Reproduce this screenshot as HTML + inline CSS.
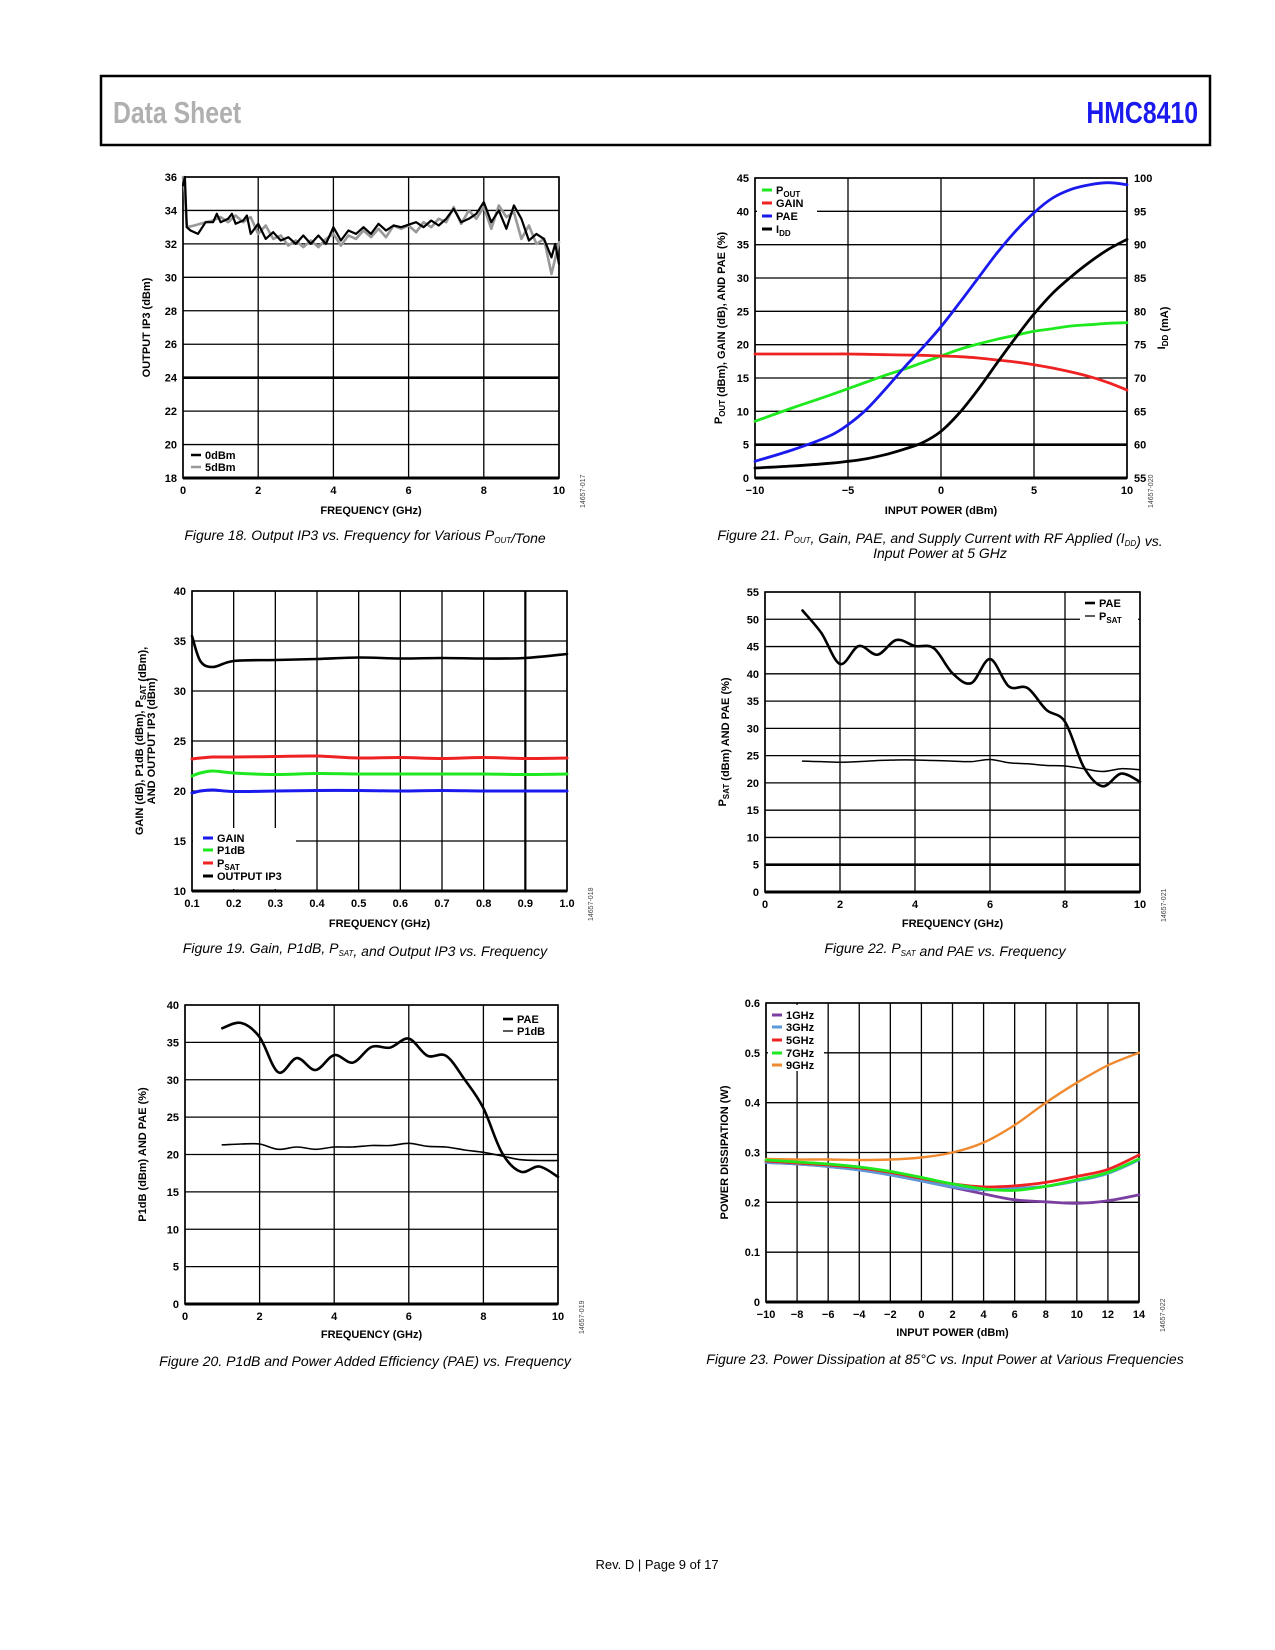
<!DOCTYPE html>
<html><head><meta charset="utf-8">
<style>
body{margin:0;background:#fff;}
svg{display:block;font-family:"Liberation Sans",sans-serif;}
.tk{font-size:11px;font-weight:bold;}
.ti{font-size:11px;font-weight:bold;}
.cap{font-size:14px;font-style:italic;}
.lg{font-size:11px;font-weight:bold;}
</style></head>
<body>
<svg id="page" width="1275" height="1650" viewBox="0 0 1275 1650">
<rect x="101" y="76" width="1109" height="69" fill="none" stroke="#000" stroke-width="2.5"/>
<text x="113" y="123" font-size="31" font-weight="bold" fill="#b0b0b0" transform="translate(113 0) scale(0.8 1) translate(-113 0)">Data Sheet</text>
<text x="1198" y="123" font-size="31" font-weight="bold" fill="#1a1aee" text-anchor="end" transform="translate(1198 0) scale(0.8 1) translate(-1198 0)">HMC8410</text>
<text x="657" y="1569" font-size="13" text-anchor="middle">Rev. D | Page 9 of 17</text>
</svg>
<script>
// ---- Figure 18 data ----
const f18x0=[0,0.05,0.1,0.2,0.4,0.6,0.8,0.9,1.0,1.2,1.3,1.4,1.6,1.7,1.8,2.0,2.2,2.4,2.6,2.8,3.0,3.2,3.4,3.6,3.8,4.0,4.2,4.4,4.6,4.8,5.0,5.2,5.4,5.6,5.8,6.2,6.4,6.6,6.8,7.0,7.2,7.4,7.6,7.8,8.0,8.2,8.4,8.6,8.8,9.0,9.2,9.4,9.6,9.8,9.9,10];
const f18y0=[35.5,36,33,32.8,32.6,33.3,33.3,33.8,33.3,33.5,33.8,33.2,33.4,33.7,32.6,33.2,32.3,32.7,32.2,32.4,32.0,32.5,32.0,32.5,32.0,33.0,32.2,32.8,32.6,33.0,32.6,33.2,32.8,33.1,33.0,33.3,33.0,33.4,33.1,33.5,34.1,33.3,33.5,33.8,34.5,33.3,34.0,32.9,34.3,33.5,32.2,32.6,32.3,31.2,32.0,30.8];
const f18x5=[0,0.05,0.1,0.3,0.6,0.8,1.0,1.2,1.4,1.6,1.8,2.0,2.2,2.4,2.6,2.8,3.0,3.2,3.4,3.6,3.8,4.0,4.2,4.4,4.6,4.8,5.0,5.2,5.4,5.6,5.8,6.0,6.2,6.4,6.6,6.8,7.0,7.2,7.4,7.6,7.8,8.0,8.2,8.4,8.6,8.8,9.0,9.2,9.4,9.6,9.8,10];
const f18y5=[36,35,33,33.1,33.3,33.4,33.6,33.3,33.7,33.3,33.6,32.6,33.1,32.3,32.5,31.9,32.2,31.8,32.2,31.8,32.3,32.6,31.9,32.5,32.3,32.8,32.4,32.9,32.4,33.1,32.9,33.1,32.7,33.3,33.0,33.5,33.3,34.2,33.2,34.0,33.5,34.2,32.9,34.3,33.6,33.9,32.3,33.1,32.0,32.3,30.2,32.1];
const f18yTicks=[18,20,22,24,26,28,30,32,34,36];
const f18xTicks=[0,2,4,6,8,10];
// ---- Figure 21 data ----
const f21x=[-10,-8,-6,-5,-4,-3,-2,-1,0,1,2,3,4,5,6,7,8,9,10];
const f21pout=[8.5,10.5,12.4,13.4,14.4,15.4,16.3,17.3,18.3,19.3,20.1,20.8,21.4,22.0,22.4,22.8,23.0,23.2,23.3];
const f21gain=[18.6,18.6,18.6,18.6,18.55,18.5,18.45,18.4,18.3,18.2,18.0,17.7,17.4,17.0,16.5,15.9,15.2,14.3,13.2];
const f21pae=[2.5,4.2,6.3,8.0,10.3,13.3,16.5,19.5,22.7,26.3,30.0,33.7,37.0,39.8,42.0,43.3,44.0,44.3,44.0];
const f21idd=[56.5,56.8,57.2,57.5,57.9,58.5,59.3,60.3,62.0,64.8,68.3,72.2,76.0,79.6,82.7,85.2,87.4,89.3,90.8];
const f21yTicks=[0,5,10,15,20,25,30,35,40,45];
const f21y2Ticks=[55,60,65,70,75,80,85,90,95,100];
const f21xTicks=[-10,-5,0,5,10];
// ---- Figure 19 data ----
const f19x=[0.1,0.12,0.15,0.2,0.3,0.4,0.5,0.6,0.7,0.8,0.9,1.0];
const f19ip3=[35.5,33,32.4,33,33.1,33.2,33.35,33.25,33.3,33.25,33.3,33.7];
const f19psat=[23.2,23.3,23.4,23.4,23.45,23.5,23.3,23.35,23.25,23.35,23.25,23.3];
const f19p1db=[21.5,21.8,22,21.8,21.65,21.75,21.7,21.7,21.7,21.7,21.65,21.7];
const f19gain=[19.8,20,20.1,19.95,20.0,20.05,20.05,20.0,20.05,20.0,20.0,20.0];
const f19yTicks=[10,15,20,25,30,35,40];
const f19xTicks=[0.1,0.2,0.3,0.4,0.5,0.6,0.7,0.8,0.9,1.0];
// ---- Figure 22 data ----
const f22x=[1,1.5,2,2.5,3,3.5,4,4.5,5,5.5,6,6.5,7,7.5,8,8.5,9,9.5,10];
const f22pae=[51.6,47.5,41.8,45.1,43.5,46.2,45.1,44.7,40.1,38.3,42.7,37.7,37.4,33.4,31.2,22.9,19.4,21.7,20.2];
const f22psat=[24,23.9,23.8,23.9,24.1,24.2,24.2,24.1,24,23.9,24.3,23.7,23.5,23.2,23.1,22.6,22.1,22.6,22.4];
const f22yTicks=[0,5,10,15,20,25,30,35,40,45,50,55];
const f22xTicks=[0,2,4,6,8,10];
// ---- Figure 20 data ----
const f20x=[1,1.5,2,2.5,3,3.5,4,4.5,5,5.5,6,6.5,7,7.5,8,8.5,9,9.5,10];
const f20pae=[36.9,37.6,35.7,31.0,32.9,31.3,33.3,32.3,34.4,34.3,35.5,33.2,33.2,30,26.2,20.2,17.7,18.4,17.0];
const f20p1db=[21.3,21.4,21.4,20.7,21,20.7,21,21,21.2,21.2,21.5,21.1,21,20.6,20.3,19.8,19.3,19.2,19.2];
const f20yTicks=[0,5,10,15,20,25,30,35,40];
const f20xTicks=[0,2,4,6,8,10];
// ---- Figure 23 data ----
const f23x=[-10,-8,-6,-4,-2,0,2,4,6,8,10,12,14];
const f23g1=[0.28,0.277,0.272,0.265,0.255,0.243,0.23,0.217,0.205,0.201,0.198,0.203,0.215];
const f23g3=[0.28,0.277,0.272,0.265,0.255,0.243,0.231,0.225,0.228,0.232,0.243,0.258,0.285];
const f23g5=[0.283,0.279,0.275,0.269,0.26,0.248,0.237,0.231,0.233,0.24,0.252,0.266,0.295];
const f23g7=[0.285,0.281,0.277,0.271,0.262,0.25,0.237,0.227,0.224,0.232,0.245,0.26,0.287];
const f23g9=[0.287,0.286,0.286,0.285,0.286,0.29,0.30,0.32,0.355,0.40,0.44,0.475,0.50];
const f23yTicks=[0,0.1,0.2,0.3,0.4,0.5,0.6];
const f23yLabels=["0","0.1","0.2","0.3","0.4","0.5","0.6"];
const f23xTicks=[-10,-8,-6,-4,-2,0,2,4,6,8,10,12,14];

const NS="http://www.w3.org/2000/svg";
const page=document.getElementById('page');
function mk(tag,attrs,parent,txt){const e=document.createElementNS(NS,tag);for(const k in attrs)e.setAttribute(k,attrs[k]);if(txt!==undefined)e.textContent=txt;(parent||page).appendChild(e);return e;}
function fmtMinus(v){return String(v).replace('-','\u2212');}
function smooth(pts){
  if(pts.length<3)return 'M'+pts.map(p=>p.join(',')).join('L');
  let d='M'+pts[0][0].toFixed(1)+','+pts[0][1].toFixed(1);
  for(let i=0;i<pts.length-1;i++){
    const p0=pts[Math.max(0,i-1)],p1=pts[i],p2=pts[i+1],p3=pts[Math.min(pts.length-1,i+2)];
    const c1=[p1[0]+(p2[0]-p0[0])/6,p1[1]+(p2[1]-p0[1])/6];
    const c2=[p2[0]-(p3[0]-p1[0])/6,p2[1]-(p3[1]-p1[1])/6];
    d+='C'+c1[0].toFixed(1)+','+c1[1].toFixed(1)+' '+c2[0].toFixed(1)+','+c2[1].toFixed(1)+' '+p2[0].toFixed(1)+','+p2[1].toFixed(1);
  }
  return d;
}
function chart(c){
  const g=mk('g',{});
  
  
  const X=v=>c.L+(v-c.xmin)/(c.xmax-c.xmin)*(c.R-c.L);
  const Y=v=>c.B-(v-c.ymin)/(c.ymax-c.ymin)*(c.B-c.T);
  c.X=X;c.Y=Y;
  c.yTicks.forEach((t,i)=>{
    const ln=mk('line',{x1:c.L,x2:c.R,y1:Y(t),y2:Y(t),stroke:'#000','stroke-width':(c.thickY&&c.thickY.includes(t))?2.6:1.3},g);
    
    
    const tx=mk('text',{x:c.L-6,y:Y(t)+4,'text-anchor':'end',class:'tk'},g,c.yLabels?c.yLabels[i]:fmtMinus(t));
    
    
  });
  c.xTicks.forEach(t=>{
    const ln=mk('line',{x1:X(t),x2:X(t),y1:c.T,y2:c.B,stroke:'#000','stroke-width':(c.thickX&&c.thickX.includes(t))?2.2:1.3},g);
    
    
    const tx=mk('text',{x:X(t),y:c.B+16,'text-anchor':'middle',class:'tk'},g,c.xFmt?c.xFmt(t):fmtMinus(t));
    
    
  });
  if(c.y2Ticks){
    c.y2Ticks.forEach((t,i)=>{
      const yy=c.B-i/(c.y2Ticks.length-1)*(c.B-c.T);
      const tx=mk('text',{x:c.R+7,y:yy+4,class:'tk'},g,t);
      
      
    });
  }
  const fr=mk('rect',{x:c.L,y:c.T,width:c.R-c.L,height:c.B-c.T,fill:'none',stroke:'#000','stroke-width':1.6},g);
  
  
  const bl=mk('line',{x1:c.L,x2:c.R,y1:c.B,y2:c.B,stroke:'#000','stroke-width':3},g);
  
  
  c.series.forEach(s=>{
    const pts=s.x.map((v,i)=>[X(v),(s.y2?c.Y2(s.y[i]):Y(s.y[i]))]);
    const p=mk('path',{d:s.raw?('M'+pts.map(q=>q[0].toFixed(1)+','+q[1].toFixed(1)).join('L')):smooth(pts),fill:'none',stroke:s.color,'stroke-width':s.w,'stroke-linejoin':'round','stroke-linecap':'round'},g);
    
    
  });
  if(c.legBox){const r=mk('rect',Object.assign({fill:'#fff'},c.legBox),g);
    
    }
  c.legend.forEach(l=>{
    const sw=mk('line',{x1:c.legX,x2:c.legX+10,y1:l.y-4,y2:l.y-4,stroke:l.color,'stroke-width':l.w},g);
    
    
    const t=mk('text',{x:c.legX+14,y:l.y,class:'lg'},g);
    t.innerHTML=l.html;
    
    
  });
  const xt=mk('text',{x:(c.L+c.R)/2,y:c.xTitleY,'text-anchor':'middle',class:'ti'},g,c.xTitle);
  
  
  c.yTitles.forEach(yt=>{
    const t=mk('text',{x:0,y:0,'text-anchor':'middle',class:'ti',transform:`translate(${yt.x} ${(c.T+c.B)/2}) rotate(-90)`},g);
    t.innerHTML=yt.html;
    
    
  });
  const id=mk('text',{x:0,y:0,'font-size':7,fill:'#444','text-anchor':'start',transform:`translate(${c.R+26} ${c.B+30}) rotate(-90)`},g,c.figId);
  
  
  c.caption.forEach((cp,i)=>{
    const t=mk('text',{x:c.capX,y:c.capY+i*18,'text-anchor':'middle',class:'cap'},g);
    t.innerHTML=cp;
    
    
  });
  return c;
}
const sub=s=>`<tspan font-size="8" dy="3">${s}</tspan><tspan dy="-3"></tspan>`;

chart({name:'figure-18-chart',L:183,R:559,T:177,B:478,xmin:0,xmax:10,ymin:18,ymax:36,
  yTicks:f18yTicks,xTicks:f18xTicks,thickY:[24],
  series:[{name:'series-5dbm',x:f18x5,y:f18y5,color:'#999',w:2.6,raw:true},{name:'series-0dbm',x:f18x0,y:f18y0,color:'#000',w:2.2,raw:true}],
  legX:191,legend:[{y:459,color:'#000',w:2.5,html:'0dBm'},{y:471,color:'#999',w:2.5,html:'5dBm'}],
  xTitle:'FREQUENCY (GHz)',xTitleY:514,yTitles:[{x:150,html:'OUTPUT IP3 (dBm)'}],figId:'14657-017',
  caption:['Figure 18. Output IP3 vs. Frequency for Various P'+sub('OUT')+'/Tone'],capX:365,capY:540});

const c21={name:'figure-21-chart',L:755,R:1127,T:178,B:478,xmin:-10,xmax:10,ymin:0,ymax:45,
  yTicks:f21yTicks,xTicks:f21xTicks,thickY:[5],y2Ticks:f21y2Ticks,series:[],
  legBox:{x:757,y:180,width:60,height:60},legX:762,
  legend:[{y:194,color:'#1ee81e',w:3,html:'P'+sub('OUT')},{y:207,color:'#ee2222',w:3,html:'GAIN'},{y:220,color:'#1a1aee',w:3,html:'PAE'},{y:233,color:'#000',w:3,html:'I'+sub('DD')}],
  xTitle:'INPUT POWER (dBm)',xTitleY:514,
  yTitles:[{x:722,html:'P'+sub('OUT')+' (dBm), GAIN (dB), AND PAE (%)'},{x:1165,html:'I'+sub('DD')+' (mA)'}],
  figId:'14657-020',caption:['Figure 21. P'+sub('OUT')+', Gain, PAE, and Supply Current with RF Applied (I'+sub('DD')+') vs.','Input Power at 5 GHz'],capX:940,capY:540};
c21.Y2=v=>c21.B-(v-55)/45*(c21.B-c21.T);
c21.series=[{name:'series-pout',x:f21x,y:f21pout,color:'#1ee81e',w:2.8},{name:'series-gain',x:f21x,y:f21gain,color:'#ee2222',w:2.8},{name:'series-pae',x:f21x,y:f21pae,color:'#1a1aee',w:2.8},{name:'series-idd',x:f21x,y:f21idd,color:'#000',w:2.8,y2:true}];
chart(c21);

chart({name:'figure-19-chart',L:192,R:567,T:591,B:891,xmin:0.1,xmax:1.0,ymin:10,ymax:40,
  yTicks:f19yTicks,xTicks:f19xTicks,thickX:[0.9],xFmt:t=>t.toFixed(1),
  series:[{name:'series-output-ip3',x:f19x,y:f19ip3,color:'#000',w:2.6},{name:'series-psat',x:f19x,y:f19psat,color:'#ee2222',w:3},{name:'series-p1db',x:f19x,y:f19p1db,color:'#1ee81e',w:3},{name:'series-gain',x:f19x,y:f19gain,color:'#1a1aee',w:3}],
  legBox:{x:193,y:828,width:103,height:61},legX:203,
  legend:[{y:842,color:'#1a1aee',w:3,html:'GAIN'},{y:854,color:'#1ee81e',w:3,html:'P1dB'},{y:867,color:'#ee2222',w:3,html:'P'+sub('SAT')},{y:880,color:'#000',w:3,html:'OUTPUT IP3'}],
  xTitle:'FREQUENCY (GHz)',xTitleY:927,
  yTitles:[{x:143,html:'GAIN (dB), P1dB (dBm), P'+sub('SAT')+' (dBm),'},{x:155,html:'AND OUTPUT IP3 (dBm)'}],
  figId:'14657-018',caption:['Figure 19. Gain, P1dB, P'+sub('SAT')+', and Output IP3 vs. Frequency'],capX:365,capY:953});

chart({name:'figure-22-chart',L:765,R:1140,T:592,B:892,xmin:0,xmax:10,ymin:0,ymax:55,
  yTicks:f22yTicks,xTicks:f22xTicks,thickY:[5],
  series:[{name:'series-pae',x:f22x,y:f22pae,color:'#000',w:2.6},{name:'series-psat',x:f22x,y:f22psat,color:'#000',w:1.5}],
  legBox:{x:1080,y:594,width:58,height:32},legX:1085,
  legend:[{y:607,color:'#000',w:2.6,html:'PAE'},{y:620,color:'#000',w:1.3,html:'P'+sub('SAT')}],
  xTitle:'FREQUENCY (GHz)',xTitleY:927,yTitles:[{x:726,html:'P'+sub('SAT')+' (dBm) AND PAE (%)'}],
  figId:'14657-021',caption:['Figure 22. P'+sub('SAT')+' and PAE vs. Frequency'],capX:945,capY:953});

chart({name:'figure-20-chart',L:185,R:558,T:1005,B:1304,xmin:0,xmax:10,ymin:0,ymax:40,
  yTicks:f20yTicks,xTicks:f20xTicks,
  series:[{name:'series-pae',x:f20x,y:f20pae,color:'#000',w:2.6},{name:'series-p1db',x:f20x,y:f20p1db,color:'#000',w:1.6}],
  legBox:{x:500,y:1008,width:55,height:28},legX:503,
  legend:[{y:1023,color:'#000',w:2.6,html:'PAE'},{y:1035,color:'#000',w:1.3,html:'P1dB'}],
  xTitle:'FREQUENCY (GHz)',xTitleY:1338,yTitles:[{x:146,html:'P1dB (dBm) AND PAE (%)'}],
  figId:'14657-019',caption:['Figure 20. P1dB and Power Added Efficiency (PAE) vs. Frequency'],capX:365,capY:1366});

chart({name:'figure-23-chart',L:766,R:1139,T:1003,B:1302,xmin:-10,xmax:14,ymin:0,ymax:0.6,
  yTicks:f23yTicks,yLabels:f23yLabels,xTicks:f23xTicks,
  series:[{name:'series-9ghz',x:f23x,y:f23g9,color:'#f08a30',w:2.4},{name:'series-1ghz',x:f23x,y:f23g1,color:'#7a3fa0',w:2.8},{name:'series-3ghz',x:f23x,y:f23g3,color:'#5a9ad8',w:2.8},{name:'series-5ghz',x:f23x,y:f23g5,color:'#ee2222',w:2.8},{name:'series-7ghz',x:f23x,y:f23g7,color:'#1ee81e',w:2.8}],
  legBox:{x:768,y:1005,width:56,height:66},legX:772,
  legend:[{y:1019,color:'#7a3fa0',w:3,html:'1GHz'},{y:1031,color:'#5a9ad8',w:3,html:'3GHz'},{y:1044,color:'#ee2222',w:3,html:'5GHz'},{y:1057,color:'#1ee81e',w:3,html:'7GHz'},{y:1069,color:'#f08a30',w:3,html:'9GHz'}],
  xTitle:'INPUT POWER (dBm)',xTitleY:1336,yTitles:[{x:728,html:'POWER DISSIPATION (W)'}],
  figId:'14657-022',caption:['Figure 23. Power Dissipation at 85°C vs. Input Power at Various Frequencies'],capX:945,capY:1364});
</script>
</body></html>
